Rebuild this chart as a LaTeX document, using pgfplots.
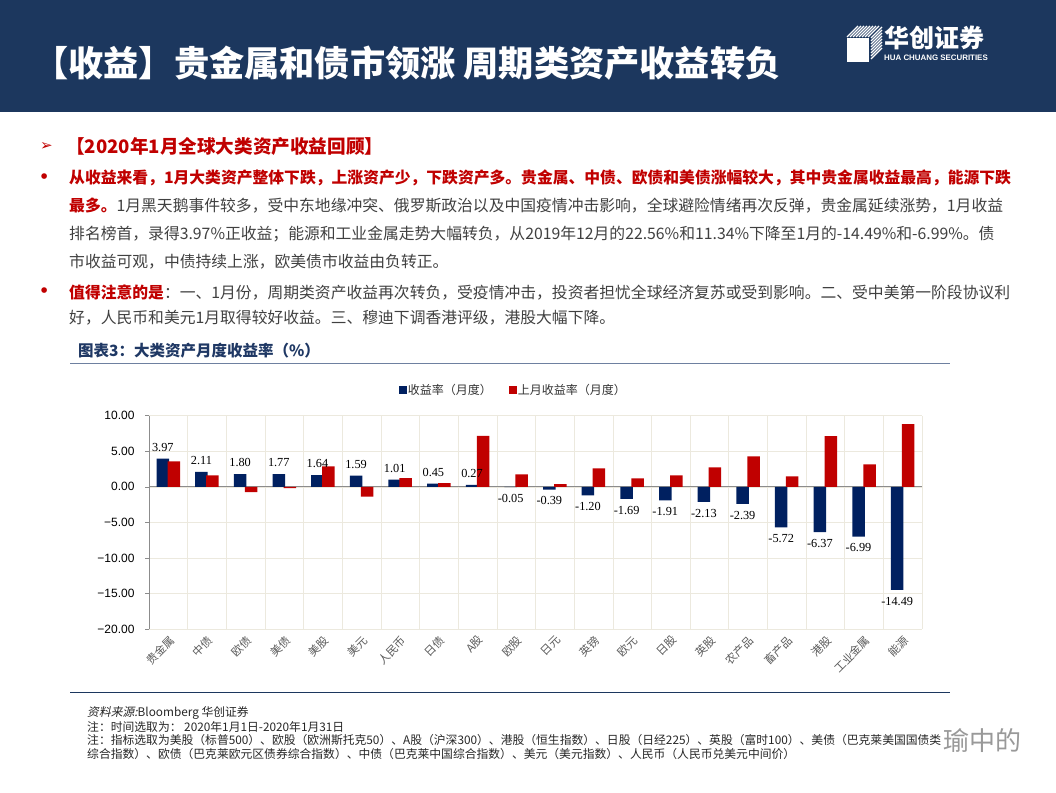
\documentclass[border=0pt]{standalone}
\usepackage{pgfplots}
\usepackage{pgfplotstable}
\pgfplotsset{compat=1.18}
\usepackage{fontspec}
\setmainfont{Noto Sans CJK SC}
\newfontfamily\arial{Liberation Sans}
\newfontfamily\tnr{Liberation Serif}
\newfontfamily\dejavu{DejaVu Sans}
\newfontfamily\cjkslant[FakeSlant=0.2]{Noto Sans CJK SC}
\XeTeXlinebreaklocale "zh"
\XeTeXlinebreakskip=0pt plus 1pt
\definecolor{hdr}{RGB}{28,55,94}
\definecolor{navy}{RGB}{0,32,96}
\definecolor{dred}{RGB}{192,0,0}
\definecolor{txt}{RGB}{64,64,64}
\definecolor{gridc}{RGB}{236,233,222}
\definecolor{ttl}{RGB}{31,56,100}
\definecolor{tline}{RGB}{110,128,160}
\newcommand\jline[1]{\hbox to 938pt{#1}}

\pgfplotstableread{
x cur prev
0 3.97 3.58
1 2.11 1.60
2 1.80 -0.75
3 1.77 -0.20
4 1.64 2.88
5 1.59 -1.37
6 1.01 1.23
7 0.45 0.52
8 0.27 7.17
9 -0.05 1.75
10 -0.39 0.38
11 -1.20 2.59
12 -1.69 1.18
13 -1.91 1.60
14 -2.13 2.74
15 -2.39 4.29
16 -5.72 1.46
17 -6.37 7.12
18 -6.99 3.16
19 -14.49 8.82
}\assetdata

\begin{document}
\begin{tikzpicture}
\path[use as bounding box] (0,0) rectangle (1056pt,-792pt);
\begin{scope}[x=1pt,y=1pt]
% header
\fill[hdr] (0,0) rectangle (1056,-112);
\node[anchor=west,inner sep=0,text=white,font=\fontsize{35.2}{38}\selectfont\bfseries] at (33,-63) {【收益】贵金属和债市领涨 周期类资产收益转负};
% logo
\fill[white] (847,-38) rectangle (869,-62);
\foreach \d in {0,3,...,21} {\draw[white,line width=1.2pt] ({847+\d},-37) -- ({858+\d},-26);}
\foreach \d in {0,3,...,21} {\draw[white,line width=1.2pt] (871,{-38-\d}) -- (882,{-27-\d});}
\node[anchor=west,inner sep=0,text=white,font=\fontsize{25}{26}\selectfont\bfseries] at (884,-38) {华创证券};
\node[anchor=west,inner sep=0,text=white,font=\arial\fontsize{7.9}{9}\selectfont\bfseries] at (884,-57.5) {HUA CHUANG SECURITIES};
% text block
\node[anchor=west,inner sep=0,text=dred,font=\dejavu\fontsize{15}{16}\selectfont] at (40,-146) {➢};
\node[anchor=west,inner sep=0,text=dred,font=\fontsize{18.6}{21}\selectfont\bfseries] at (66,-146) {【2020年1月全球大类资产收益回顾】};
\node[anchor=west,inner sep=0,text=dred,font=\dejavu\fontsize{16}{18}\selectfont\bfseries] at (39,-178) {•};
\node[anchor=west,inner sep=0,text=txt,font=\fontsize{15.8}{18}\selectfont] at (69,-178) {\jline{{\color{dred}\bfseries 从收益来看，1月大类资产整体下跌，上涨资产少，下跌资产多。贵金属、中债、欧债和美债涨幅较大，其中贵金属收益最高，能源下跌}}};
\node[anchor=west,inner sep=0,text=txt,font=\fontsize{15.8}{18}\selectfont] at (69,-206) {\jline{{\color{dred}\bfseries 最多。}1月黑天鹅事件较多，受中东地缘冲突、俄罗斯政治以及中国疫情冲击影响，全球避险情绪再次反弹，贵金属延续涨势，1月收益}};
\node[anchor=west,inner sep=0,text=txt,font=\fontsize{15.8}{18}\selectfont] at (69,-234) {\jline{排名榜首，录得3.97\%正收益；能源和工业金属走势大幅转负，从2019年12月的22.56\%和11.34\%下降至1月的-14.49\%和-6.99\%。债}};
\node[anchor=west,inner sep=0,text=txt,font=\fontsize{15.8}{18}\selectfont] at (69,-262) {市收益可观，中债持续上涨，欧美债市收益由负转正。};
\node[anchor=west,inner sep=0,text=dred,font=\dejavu\fontsize{16}{18}\selectfont\bfseries] at (39,-292) {•};
\node[anchor=west,inner sep=0,text=txt,font=\fontsize{15.8}{18}\selectfont] at (69,-292) {\jline{{\color{dred}\bfseries 值得注意的是}：一、1月份，周期类资产收益再次转负，受疫情冲击，投资者担忧全球经济复苏或受到影响。二、受中美第一阶段协议利}};
\node[anchor=west,inner sep=0,text=txt,font=\fontsize{15.8}{18}\selectfont] at (69,-318) {好，人民币和美元1月取得较好收益。三、穆迪下调香港评级，港股大幅下降。};
% chart title
\node[anchor=west,inner sep=0,text=ttl,font=\fontsize{15.5}{17}\selectfont\bfseries] at (78,-351) {图表3：大类资产月度收益率（\%）};
\draw[tline,line width=1.5pt] (70,-363.5) -- (950,-363.5);
% footer
\draw[hdr,line width=1.3pt] (70,-692.5) -- (950,-692.5);
\node[anchor=west,inner sep=0,text=black!85,font=\fontsize{11.8}{13}\selectfont] at (87,-713) {{\cjkslant 资料来源:}Bloomberg 华创证券};
\node[anchor=west,inner sep=0,text=black!85,font=\fontsize{11.8}{13}\selectfont] at (87,-727) {注：时间选取为： 2020年1月1日-2020年1月31日};
\node[anchor=west,inner sep=0,text=black!85,font=\fontsize{11.8}{13}\selectfont] at (87,-740.5) {注：指标选取为美股（标普500）、欧股（欧洲斯托克50）、A股（沪深300）、港股（恒生指数）、日股（日经225）、英股（富时100）、美债（巴克莱美国国债类};
\node[anchor=west,inner sep=0,text=black!85,font=\fontsize{11.8}{13}\selectfont] at (87,-754) {综合指数）、欧债（巴克莱欧元区债券综合指数）、中债（巴克莱中国综合指数）、美元（美元指数）、人民币（人民币兑美元中间价）};
\node[anchor=west,inner sep=0,text=black!40,font=\fontsize{26}{28}\selectfont] at (943,-741) {瑜中的};
\end{scope}

\begin{axis}[
  at={(149pt,-629pt)}, anchor=south west,
  scale only axis, width=773pt, height=213.3pt,
  ybar, bar width=12.5pt,
  xmin=-0.5, xmax=19.5, ymin=-20, ymax=10,
  axis x line*=bottom, axis y line*=left,
  axis line style={-},
  x axis line style={draw=none},
  y axis line style={draw=black!45, line width=0.8pt},
  xtick={0,...,19},
  xticklabels={贵金属,中债,欧债,美债,美股,美元,人民币,日债,A股,欧股,日元,英镑,欧元,日股,英股,农产品,畜产品,港股,工业金属,能源},
  x tick style={draw=none},
  x tick label style={rotate=45, anchor=north east, font=\fontsize{11.2}{12}\selectfont, text=black!65, inner sep=1pt},
  minor xtick={-0.5,0.5,...,19.5},
  xminorgrids, ymajorgrids,
  grid style={gridc, line width=0.6pt},
  ytick={-20,-15,...,10},
  yticklabels={−20.00,−15.00,−10.00,−5.00,0.00,5.00,10.00},
  y tick style={draw=black!45, line width=0.6pt},
  tick align=outside, major tick length=4pt,
  y tick label style={font=\arial\fontsize{12}{12}\selectfont, text=black, xshift=-7pt},
  extra y ticks={0}, extra y tick labels={},
  extra y tick style={grid=major, major grid style={draw=black!45, line width=0.8pt}, tick style={draw=none}},
  legend columns=2,
  legend style={at={(0.4715,1)}, anchor=center, yshift=26pt, draw=none, fill=none,
    font=\fontsize{12}{13}\selectfont, text=black!80,
    /tikz/every even column/.append style={column sep=15pt}},
  clip=false,
]
\addlegendimage{legend image code/.code={\fill[navy] (0pt,-3.3pt) rectangle (6.6pt,3.3pt);}}
\addlegendentry{收益率（月度）}
\addlegendimage{legend image code/.code={\fill[dred] (0pt,-3.3pt) rectangle (6.6pt,3.3pt);}}
\addlegendentry{上月收益率（月度）}
\addplot[fill=navy, draw=none, bar shift=-5.5pt, forget plot] table[x=x,y=cur]{\assetdata};
\addplot[fill=dred, draw=none, bar shift=5.5pt, forget plot] table[x=x,y=prev]{\assetdata};
\addplot[draw=none, fill=none, bar shift=-5.5pt, forget plot,
  nodes near coords={\pgfmathprintnumber[assume math mode=true,fixed,fixed zerofill,precision=2]{\pgfplotspointmeta}},
  nodes near coords align=vertical,
  every node near coord/.append style={font=\tnr\fontsize{12.3}{13}\selectfont, text=black, inner xsep=1pt, inner ysep=7pt}]
  table[x=x,y=cur]{\assetdata};
\end{axis}
\end{tikzpicture}
\end{document}
